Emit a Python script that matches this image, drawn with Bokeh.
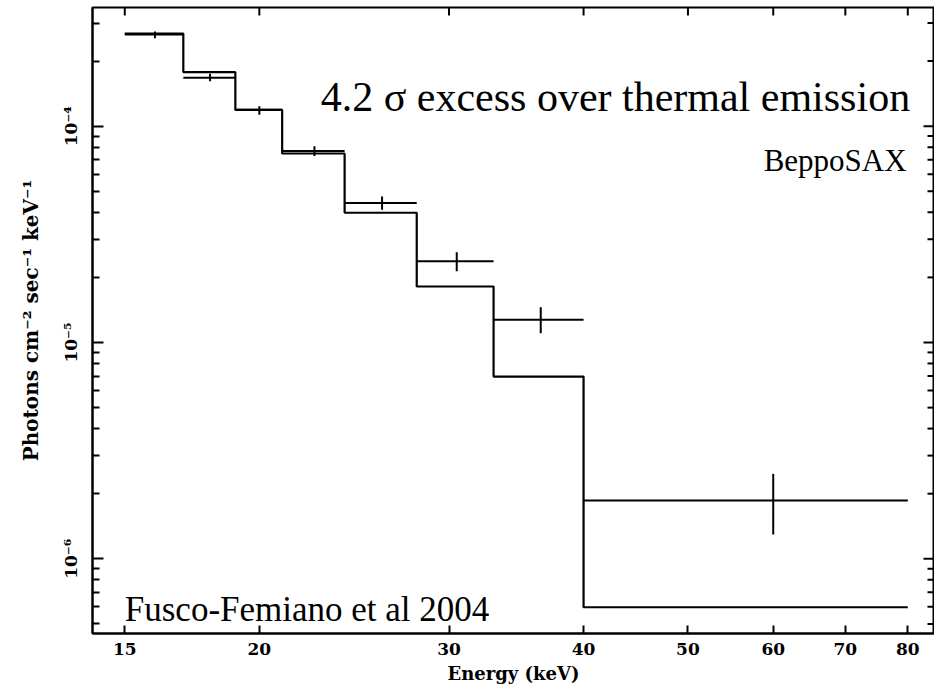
import math
from bokeh.plotting import figure
from bokeh.models import (Range1d, FixedTicker, Label, ColumnDataSource,
                          CustomJSTickFormatter)
from bokeh.embed import file_html
from bokeh.resources import INLINE

# ---- data ----
bin_edges = [15, 17, 19, 21, 24, 28, 33, 40, 80]          # keV
model_flux = [2.68e-4, 1.777e-4, 1.19e-4, 7.48e-5, 3.98e-5, 1.815e-5, 6.96e-6, 5.97e-7]
data_flux = [2.655e-4, 1.674e-4, 1.191e-4, 7.68e-5, 4.41e-5, 2.376e-5, 1.273e-5, 1.861e-6]
data_err_lo = [2.552e-4, 1.614e-4, 1.129e-4, 7.28e-5, 4.11e-5, 2.136e-5, 1.104e-5, 1.295e-6]
data_err_hi = [2.741e-4, 1.747e-4, 1.237e-4, 8.08e-5, 4.73e-5, 2.615e-5, 1.456e-5, 2.47e-6]

x_ticks = [15, 20, 30, 40, 50, 60, 70, 80]
x_tick_labels = ["15", "20", "30", "40", "50", "60", "70", "80"]
y_ticks = [1e-6, 1e-5, 1e-4]
y_tick_labels = ["10\u207b\u2076", "10\u207b\u2075", "10\u207b\u2074"]
y_minor = [m * 10.0 ** e for e in (-7, -6, -5, -4) for m in range(2, 10)]

x_min, x_max = 14.0, 84.7
y_min, y_max = 4.515e-7, 3.539e-4

x_label = "Energy (keV)"
y_label = "Photons cm\u207b\u00b2 sec\u207b\u00b9 keV\u207b\u00b9"
title_text = "4.2 \u03c3 excess over thermal emission"
inst_text = "BeppoSAX"
ref_text = "Fusco-Femiano et al 2004"

# ---- build sources ----
lo = bin_edges[:-1]
hi = bin_edges[1:]
centers = [(a + b) / 2 for a, b in zip(lo, hi)]
data_src = ColumnDataSource(dict(lo=lo, hi=hi, c=centers, y=data_flux,
                                 elo=data_err_lo, ehi=data_err_hi))
model_src = ColumnDataSource(dict(x=bin_edges, y=model_flux + [model_flux[-1]]))

p = figure(width=934, height=690, x_axis_type="log", y_axis_type="log",
           x_range=Range1d(x_min, x_max), y_range=Range1d(y_min, y_max),
           output_backend="svg", toolbar_location=None,
           min_border_left=92, min_border_right=0, min_border_top=7, min_border_bottom=57)
p.background_fill_color = "white"
p.border_fill_color = "white"
p.outline_line_color = "black"
p.outline_line_width = 2
p.xgrid.visible = False
p.ygrid.visible = False

# model step
p.step("x", "y", source=model_src, mode="after", line_color="black", line_width=2.2)
# data crosses
p.segment(x0="lo", x1="hi", y0="y", y1="y", source=data_src, line_color="black", line_width=2)
p.segment(x0="c", x1="c", y0="elo", y1="ehi", source=data_src, line_color="black", line_width=2)

# ticks on the top and right frame edges (same tick values as the axes)
p.ray(x=x_ticks, y=[y_max] * len(x_ticks), length=8, length_units="screen",
      angle=-math.pi / 2, line_color="black", line_width=2)
p.ray(x=[x_max] * len(y_ticks), y=y_ticks, length=11, length_units="screen",
      angle=math.pi, line_color="black", line_width=2)
p.ray(x=[x_max] * len(y_minor), y=y_minor, length=7, length_units="screen",
      angle=math.pi, line_color="black", line_width=2)

tick_font = "DejaVu Serif"
xt = FixedTicker(ticks=x_ticks, minor_ticks=[])
yt = FixedTicker(ticks=y_ticks, minor_ticks=y_minor)
x_over = {t: l for t, l in zip(x_ticks, x_tick_labels)}
yfmt = CustomJSTickFormatter(args=dict(vals=y_ticks, labs=y_tick_labels), code="""
let best = 0;
for (let i = 0; i < vals.length; i++) {
  if (Math.abs(Math.log10(vals[i]) - Math.log10(tick)) <
      Math.abs(Math.log10(vals[best]) - Math.log10(tick))) best = i;
}
return labs[best];
""")

def style_common(ax):
    ax.axis_line_width = 2
    ax.axis_line_color = "black"
    ax.major_tick_line_width = 2
    ax.minor_tick_line_width = 2
    ax.major_tick_out = 0
    ax.minor_tick_out = 0

# bottom axis
xa = p.xaxis[0]
xa.ticker = xt
xa.major_label_overrides = x_over
style_common(xa)
xa.major_tick_in = 8
xa.major_label_text_font = tick_font
xa.major_label_text_font_style = "bold"
xa.major_label_text_font_size = "17px"
xa.major_label_text_color = "black"
xa.major_label_standoff = 9
xa.axis_label = x_label
xa.axis_label_text_font = tick_font
xa.axis_label_text_font_style = "bold"
xa.axis_label_text_font_size = "18px"
xa.axis_label_text_color = "black"
xa.axis_label_standoff = 5

# left axis
ya = p.yaxis[0]
ya.ticker = yt
ya.formatter = yfmt
style_common(ya)
ya.major_tick_in = 11
ya.minor_tick_in = 7
ya.major_label_orientation = "vertical"
ya.major_label_text_font = tick_font
ya.major_label_text_font_style = "bold"
ya.major_label_text_font_size = "17px"
ya.major_label_text_color = "black"
ya.major_label_standoff = 11
ya.axis_label = y_label
ya.axis_label_text_font = tick_font
ya.axis_label_text_font_style = "bold"
ya.axis_label_text_font_size = "20px"
ya.axis_label_text_color = "black"
ya.axis_label_standoff = 16

# annotations
txt_font = "Liberation Serif"
p.add_layout(Label(x=80.4, y=1.362e-4, text=title_text, text_align="right",
                   text_baseline="alphabetic", text_font=txt_font,
                   text_font_size="42px", text_color="black"))
p.add_layout(Label(x=79.8, y=6.94e-5, text=inst_text, text_align="right",
                   text_baseline="alphabetic", text_font=txt_font,
                   text_font_size="31px", text_color="black"))
p.add_layout(Label(x=15.0, y=5.81e-7, text=ref_text, text_align="left",
                   text_baseline="alphabetic", text_font=txt_font,
                   text_font_size="35px", text_color="black"))

open("out.html", "w").write(file_html(p, INLINE))
